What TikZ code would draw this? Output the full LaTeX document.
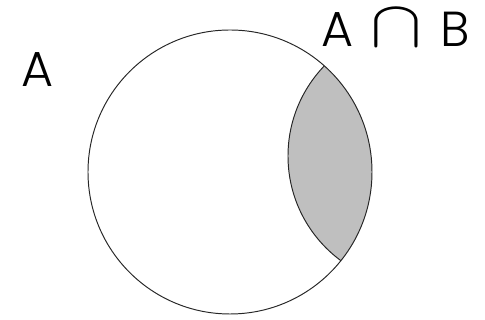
\documentclass[tikz,border=0pt]{standalone}
\usepackage{fontspec}
\setmainfont{Poppins Light}
\usepackage{tikz}

\begin{document}
\begin{tikzpicture}[x=0.02cm, y=-0.02cm]
    \tikzset{
        setline/.style={draw=black!85, line width=0.55pt},
        setlabel/.style={inner sep=0pt, anchor=base west, font=\fontsize{28}{32}\selectfont}
    }
    \useasboundingbox (0,0) rectangle (485,320);

    % set A and the shaded part shared with B
    \begin{scope}
        \clip (230,172) circle (142);
        \fill[black!25] (418,156) circle (130);
        \draw[setline] (418,156) circle (130);
    \end{scope}
    \draw[setline] (230,172) circle (142);

    \node[setlabel] (labelA) at (21,87) {A};
    \node[setlabel] (labelAB) at (321,47)
        {A\hspace{10pt}\resizebox{29.5pt}{21pt}{$\cap$}\hspace{10pt}B};
\end{tikzpicture}
\end{document}
